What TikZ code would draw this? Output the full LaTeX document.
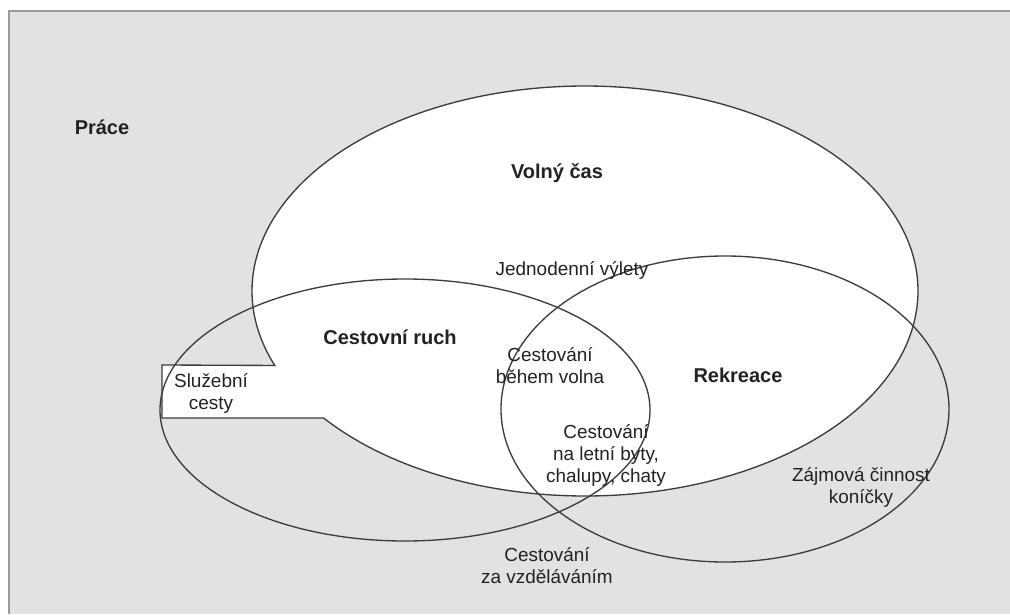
\documentclass[tikz,border=0pt]{standalone}
\usepackage{fontspec}
\setmainfont{Liberation Sans}
\usepackage{tikz}

\definecolor{pozadi}{HTML}{E2E2E2}
\definecolor{ramecek}{HTML}{9A9A9A}
\definecolor{cara}{HTML}{3C3C3C}
\definecolor{pismo}{HTML}{222222}

\tikzset{
  txt/.style={font=\fontsize{14.2}{16.5}\selectfont, text=pismo, align=center, inner sep=0pt},
  txtb/.style={txt, font=\fontsize{15}{17}\selectfont\bfseries},
  obrys/.style={draw=cara, line width=1pt}
}

\begin{document}
\begin{tikzpicture}[x=0.75pt,y=0.75pt,yscale=-1,xscale=1]

\useasboundingbox (0,0) rectangle (1010,614);
\fill[pozadi] (9,11) rectangle (1010,614);
\draw[ramecek, line width=1.5pt] (9,614) -- (9,11) -- (1010,11);

% volny cas s vybezkem
\coordinate (vc) at (585,291);
\path (vc) ++(141.7:333 and 205) coordinate (vcdole);
\draw[obrys, fill=white] (vcdole) arc[start angle=141.7, end angle=-201.3, x radius=333, y radius=205]
  -- (162,365) -- (162,418) -- cycle;

% cestovni ruch, rekreace
\draw[obrys] (405,410) ellipse [x radius=245, y radius=131];
\draw[obrys] (725,409) ellipse [x radius=224, y radius=153];

\node[txtb] (prace) at (102,127) {Práce};
\node[txtb] (volny) at (557,173) {Volný čas};
\node[txtb] (ruch) at (390,337) {Cestovní ruch};
\node[txtb] (rekreace) at (738,375) {Rekreace};

\node[txt] (vylety) at (572,270) {Jednodenní výlety};
\node[txt] (volno) at (550,366) {Cestování\\během volna};
\node[txt] (chaty) at (606,455) {Cestování\\na letní byty,\\chalupy, chaty};
\node[txt] (sluzebni) at (211,393) {Služební\\cesty};
\node[txt] (konicky) at (861,487) {Zájmová činnost\\koníčky};
\node[txt] (vzdelani) at (547,566) {Cestování\\za vzděláváním};

\end{tikzpicture}
\end{document}
